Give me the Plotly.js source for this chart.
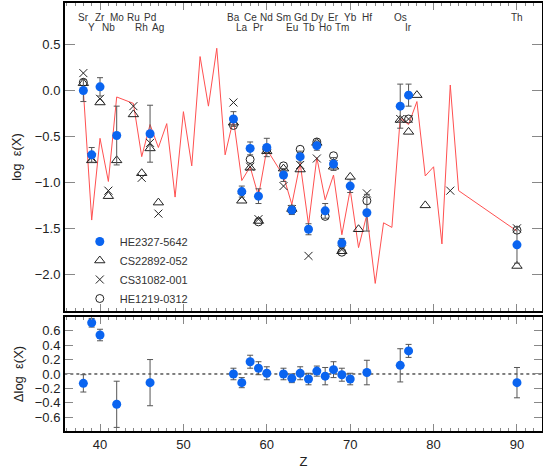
<!DOCTYPE html>
<html>
<head>
<meta charset="utf-8">
<script src="https://cdn.plot.ly/plotly-3.0.1.min.js"></script>
<style>html,body{margin:0;padding:0;background:#fff;}#chart{width:543px;height:471px;}</style>
</head>
<body>
<div id="chart"></div>
<script>
// HE2327-5642 (filled blue circles)
const zHE = [38,39,40,42,46,56,57,58,59,60,62,63,64,65,66,67,68,69,70,72,76,77,90];
const logHE = [0.00,-0.70,0.04,-0.49,-0.47,-0.31,-1.10,-0.63,-1.15,-0.62,-0.92,-1.30,-0.72,-1.51,-0.60,-1.31,-0.80,-1.66,-1.04,-1.33,-0.17,-0.05,-1.68];
const errHE = [0.12,0.08,0.10,0.32,0.31,0.08,0.06,0.07,0.08,0.10,0.07,0.05,0.06,0.06,0.05,0.08,0.07,0.05,0.07,0.20,0.24,0.12,0.20];

// CS22892-052 (open triangles)
const zCS22 = [38,39,40,41,42,44,45,46,47,56,57,58,59,60,62,63,64,66,68,69,70,71,76,77,78,79,90];
const logCS22 = [0.08,-0.76,-0.13,-1.15,-0.76,-0.26,-0.90,-0.63,-1.22,-0.35,-1.20,-0.84,-1.42,-0.66,-0.85,-1.29,-0.86,-0.57,-0.83,-1.75,-0.94,-1.51,-0.32,-0.45,-0.05,-1.25,-1.91];

// CS31082-001 (crosses)
const zCS31 = [38,39,40,41,44,45,46,47,56,57,58,59,60,62,63,64,65,66,68,69,72,76,77,82,90];
const logCS31 = [0.19,-0.73,-0.09,-1.09,-0.17,-0.95,-0.57,-1.34,-0.13,-1.16,-0.83,-1.40,-0.65,-1.04,-1.29,-0.81,-1.80,-0.74,-0.80,-1.73,-1.12,-0.31,-0.31,-1.09,-1.50];

// HE1219-0312 (open circles)
const zHE12 = [38,56,58,59,60,62,63,64,66,67,68,69,72,77,90];
const logHE12 = [0.09,-0.38,-0.75,-1.43,-0.64,-0.82,-1.30,-0.64,-0.56,-1.37,-0.71,-1.76,-1.20,-0.31,-1.52];

// scaled solar r-process pattern (red line)
const zSol = [38,39,40,41,42,44,45,46,47,48,49,50,51,52,53,54,55,56,57,58,59,60,62,63,64,65,66,67,68,69,70,71,72,73,74,75,76,77,78,79,80,81,82,83,90];
const logSol = [0.00,-1.41,-0.52,-0.99,-0.07,-0.14,-0.72,-0.37,-0.62,-0.36,-1.16,-0.23,-0.82,0.37,-0.17,0.46,-0.70,-0.31,-0.98,-0.83,-1.15,-0.64,-0.93,-1.24,-0.79,-1.46,-0.73,-1.19,-0.92,-1.57,-1.08,-1.71,-1.35,-2.10,-1.44,-1.49,-0.30,-0.37,-0.12,-0.93,-0.83,-1.67,0.06,-1.09,-1.53];

// residuals (lower panel)
const dLog = [-0.13,0.71,0.54,-0.42,-0.12,0.00,-0.12,0.17,0.08,0.01,0.00,-0.06,0.01,-0.07,0.04,-0.03,0.06,-0.01,-0.07,0.02,0.12,0.32,-0.12];
const dErr = [0.12,0.06,0.08,0.32,0.32,0.08,0.07,0.09,0.09,0.09,0.08,0.06,0.09,0.08,0.07,0.12,0.11,0.09,0.08,0.17,0.23,0.09,0.21];

// element labels
const row1Z = [38,40,42,44,46,56,58,60,62,64,66,68,70,72,76,90];
const row1 = ['Sr','Zr','Mo','Ru','Pd','Ba','Ce','Nd','Sm','Gd','Dy','Er','Yb','Hf','Os','Th'];
const row2Z = [39,41,45,47,57,59,63,65,67,69,77];
const row2 = ['Y','Nb','Rh','Ag','La','Pr','Eu','Tb','Ho','Tm','Ir'];

const FONT = 'Liberation Sans, Arial, Helvetica, sans-serif';
const BLUE = '#0a64f0';
const ERRC = '#555555';

const traces = [
  {x: zSol, y: logSol, mode: 'lines', line: {color: '#ff5050', width: 1}, showlegend: false, xaxis: 'x', yaxis: 'y'},
  {x: zHE12, y: logHE12, mode: 'markers', name: 'HE1219-0312',
   marker: {symbol: 'circle-open', size: 8, color: '#222', line: {width: 1, color: '#222'}}, xaxis: 'x', yaxis: 'y'},
  {x: zCS31, y: logCS31, mode: 'markers', name: 'CS31082-001',
   marker: {symbol: 'x-thin-open', size: 8, color: '#222', line: {width: 1, color: '#222'}}, xaxis: 'x', yaxis: 'y'},
  {x: zCS22, y: logCS22, mode: 'markers', name: 'CS22892-052',
   marker: {symbol: 'triangle-up-open', size: 9, color: '#222', line: {width: 1, color: '#222'}}, xaxis: 'x', yaxis: 'y'},
  {x: zHE, y: logHE, mode: 'markers', name: 'HE2327-5642',
   error_y: {type: 'data', array: errHE, visible: true, color: ERRC, thickness: 1, width: 3},
   marker: {symbol: 'circle', size: 9, color: BLUE}, xaxis: 'x', yaxis: 'y'},
  {x: [35, 95], y: [0, 0], mode: 'lines', line: {color: '#000', width: 1, dash: 'dot'}, showlegend: false, xaxis: 'x2', yaxis: 'y2'},
  {x: zHE, y: dLog, mode: 'markers', showlegend: false,
   error_y: {type: 'data', array: dErr, visible: true, color: ERRC, thickness: 1, width: 3},
   marker: {symbol: 'circle', size: 9, color: BLUE}, xaxis: 'x2', yaxis: 'y2'}
];

const annotations = [];
row1.forEach((t, i) => annotations.push({x: row1Z[i], y: 0.80, xref: 'x', yref: 'y', text: t, showarrow: false,
  font: {family: FONT, size: 10, color: '#333'}, xanchor: 'center', yanchor: 'middle'}));
row2.forEach((t, i) => annotations.push({x: row2Z[i], y: 0.69, xref: 'x', yref: 'y', text: t, showarrow: false,
  font: {family: FONT, size: 10, color: '#333'}, xanchor: 'center', yanchor: 'middle'}));

const axCommon = {showline: true, linecolor: '#000', linewidth: 2, mirror: 'ticks', ticks: 'inside',
  tickcolor: '#888', tickwidth: 1, showgrid: false, zeroline: false};

const layout = {
  width: 543, height: 471,
  margin: {l: 65, r: 1, t: 3, b: 40},
  paper_bgcolor: '#fff', plot_bgcolor: '#fff',
  font: {family: FONT, size: 13, color: '#222'},
  showlegend: true,
  legend: {x: 0.031, y: 0.4766, xanchor: 'left', yanchor: 'top', bgcolor: 'rgba(0,0,0,0)',
    font: {family: FONT, size: 11, color: '#333'}, traceorder: 'reversed', tracegroupgap: 0},
  xaxis: Object.assign({}, axCommon, {range: [35.8, 93.0], anchor: 'y', dtick: 10, tick0: 0, ticklen: 7,
    showticklabels: false, minor: {dtick: 1, ticklen: 3, ticks: 'inside', tickcolor: '#888'}}),
  yaxis: Object.assign({}, axCommon, {domain: [0.2804, 1], range: [-2.4, 0.953], anchor: 'x', dtick: 0.5, ticklen: 10,
    tickformat: '.1f', title: {text: 'log  ε(X)', font: {size: 13}, standoff: 10}}),
  xaxis2: Object.assign({}, axCommon, {range: [35.8, 93.0], anchor: 'y2', dtick: 10, tick0: 0, ticklen: 7,
    minor: {dtick: 1, ticklen: 3, ticks: 'inside', tickcolor: '#888'},
    title: {text: 'Z', font: {size: 13}, standoff: 6}}),
  yaxis2: Object.assign({}, axCommon, {domain: [0, 0.2664], range: [-0.79, 0.79], anchor: 'x2', dtick: 0.2, ticklen: 8,
    tickformat: '.1f', title: {text: 'Δlog  ε(X)', font: {size: 13}, standoff: 8}}),
  annotations: annotations
};

Plotly.newPlot('chart', traces, layout, {staticPlot: true, displayModeBar: false});
</script>
</body>
</html>
